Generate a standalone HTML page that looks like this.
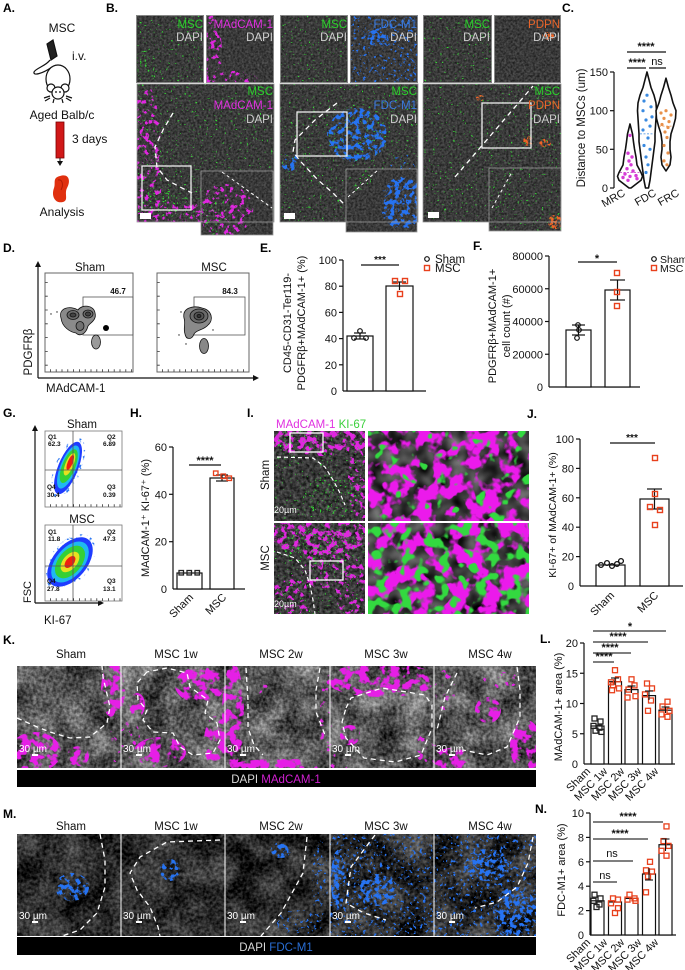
<!DOCTYPE html>
<html><head><meta charset="utf-8"><style>
body{margin:0;background:#fff}
svg{display:block}
text{font-family:"Liberation Sans",Arial,sans-serif}
</style></head><body>
<svg width="685" height="970" viewBox="0 0 685 970" xmlns="http://www.w3.org/2000/svg">
<defs>
<filter id="gD" x="0" y="0" width="1" height="1" color-interpolation-filters="sRGB"><feTurbulence type="fractalNoise" baseFrequency="0.45" numOctaves="2" seed="4"/><feColorMatrix type="matrix" values="0.35 0 0 0 0.05 0.35 0 0 0 0.05 0.35 0 0 0 0.05 0 0 0 0 1"/></filter>
<filter id="gK" x="0" y="0" width="1" height="1" color-interpolation-filters="sRGB">
<feTurbulence type="fractalNoise" baseFrequency="0.3" numOctaves="2" seed="3" result="t1"/>
<feColorMatrix in="t1" type="matrix" values="1 0 0 0 0 1 0 0 0 0 1 0 0 0 0 0 0 0 0 1" result="a"/>
<feTurbulence type="fractalNoise" baseFrequency="0.035" numOctaves="2" seed="8" result="t2"/>
<feColorMatrix in="t2" type="matrix" values="1 0 0 0 0 1 0 0 0 0 1 0 0 0 0 0 0 0 0 1" result="b"/>
<feComposite in="a" in2="b" operator="arithmetic" k1="0" k2="0.45" k3="0.55" k4="0" result="c"/>
<feColorMatrix in="c" type="matrix" values="1.3 0 0 0 -0.3 1.3 0 0 0 -0.3 1.3 0 0 0 -0.3 0 0 0 0 1"/>
</filter>
<filter id="gM" x="0" y="0" width="1" height="1" color-interpolation-filters="sRGB">
<feTurbulence type="fractalNoise" baseFrequency="0.3" numOctaves="2" seed="5" result="t1"/>
<feColorMatrix in="t1" type="matrix" values="1 0 0 0 0 1 0 0 0 0 1 0 0 0 0 0 0 0 0 1" result="a"/>
<feTurbulence type="fractalNoise" baseFrequency="0.035" numOctaves="2" seed="14" result="t2"/>
<feColorMatrix in="t2" type="matrix" values="1 0 0 0 0 1 0 0 0 0 1 0 0 0 0 0 0 0 0 1" result="b"/>
<feComposite in="a" in2="b" operator="arithmetic" k1="0" k2="0.45" k3="0.55" k4="0" result="c"/>
<feColorMatrix in="c" type="matrix" values="1.0 0 0 0 -0.33 1.0 0 0 0 -0.33 1.0 0 0 0 -0.33 0 0 0 0 1"/>
</filter>
<filter id="gI" x="0" y="0" width="1" height="1" color-interpolation-filters="sRGB"><feTurbulence type="fractalNoise" baseFrequency="0.3" numOctaves="2" seed="6"/><feColorMatrix type="matrix" values="0.5 0 0 0 -0.03 0.5 0 0 0 -0.03 0.5 0 0 0 -0.03 0 0 0 0 1"/></filter>
<filter id="gZ" x="0" y="0" width="1" height="1" color-interpolation-filters="sRGB"><feTurbulence type="fractalNoise" baseFrequency="0.06" numOctaves="2" seed="12"/><feColorMatrix type="matrix" values="0.7 0 0 0 -0.12 0.7 0 0 0 -0.12 0.7 0 0 0 -0.12 0 0 0 0 1"/></filter>

<filter id="mgD" x="0" y="0" width="1" height="1" color-interpolation-filters="sRGB"><feTurbulence type="fractalNoise" baseFrequency="0.16" numOctaves="3" seed="7"/><feColorMatrix type="matrix" values="0 0 0 0 0.88 0 0 0 0 0.15 0 0 0 0 0.88 10 0 0 0 -5"/><feComposite in2="SourceGraphic" operator="in"/></filter>
<filter id="mgM" x="0" y="0" width="1" height="1" color-interpolation-filters="sRGB"><feTurbulence type="fractalNoise" baseFrequency="0.2" numOctaves="3" seed="7"/><feColorMatrix type="matrix" values="0 0 0 0 0.88 0 0 0 0 0.15 0 0 0 0 0.88 12 0 0 0 -6.9"/><feComposite in2="SourceGraphic" operator="in"/></filter>
<filter id="mgS" x="0" y="0" width="1" height="1" color-interpolation-filters="sRGB"><feTurbulence type="fractalNoise" baseFrequency="0.16" numOctaves="3" seed="7"/><feColorMatrix type="matrix" values="0 0 0 0 0.88 0 0 0 0 0.15 0 0 0 0 0.88 14 0 0 0 -8.9"/><feComposite in2="SourceGraphic" operator="in"/></filter>
<filter id="mgK" x="0" y="0" width="1" height="1" color-interpolation-filters="sRGB"><feTurbulence type="fractalNoise" baseFrequency="0.1" numOctaves="3" seed="15"/><feColorMatrix type="matrix" values="0 0 0 0 0.9 0 0 0 0 0.12 0 0 0 0 0.9 10 0 0 0 -4.8"/><feComposite in2="SourceGraphic" operator="in"/></filter>
<filter id="mgZ" x="0" y="0" width="1" height="1" color-interpolation-filters="sRGB"><feTurbulence type="fractalNoise" baseFrequency="0.06" numOctaves="3" seed="2"/><feColorMatrix type="matrix" values="0 0 0 0 0.92 0 0 0 0 0.1 0 0 0 0 0.92 10 0 0 0 -4.7"/><feComposite in2="SourceGraphic" operator="in"/></filter>
<filter id="grS" x="0" y="0" width="1" height="1" color-interpolation-filters="sRGB"><feTurbulence type="fractalNoise" baseFrequency="0.45" numOctaves="2" seed="11"/><feColorMatrix type="matrix" values="0 0 0 0 0.2 0 0 0 0 0.85 0 0 0 0 0.2 20 0 0 0 -14.4"/><feComposite in2="SourceGraphic" operator="in"/></filter>
<filter id="grM" x="0" y="0" width="1" height="1" color-interpolation-filters="sRGB"><feTurbulence type="fractalNoise" baseFrequency="0.4" numOctaves="2" seed="13"/><feColorMatrix type="matrix" values="0 0 0 0 0.2 0 0 0 0 0.85 0 0 0 0 0.2 16 0 0 0 -10.8"/><feComposite in2="SourceGraphic" operator="in"/></filter>
<filter id="grZ" x="0" y="0" width="1" height="1" color-interpolation-filters="sRGB"><feTurbulence type="fractalNoise" baseFrequency="0.08" numOctaves="2" seed="9"/><feColorMatrix type="matrix" values="0 0 0 0 0.2 0 0 0 0 0.85 0 0 0 0 0.25 12 0 0 0 -7.4"/><feComposite in2="SourceGraphic" operator="in"/></filter>
<filter id="grZ2" x="0" y="0" width="1" height="1" color-interpolation-filters="sRGB"><feTurbulence type="fractalNoise" baseFrequency="0.08" numOctaves="2" seed="19"/><feColorMatrix type="matrix" values="0 0 0 0 0.2 0 0 0 0 0.85 0 0 0 0 0.25 10 0 0 0 -5.4"/><feComposite in2="SourceGraphic" operator="in"/></filter>
<filter id="blD" x="0" y="0" width="1" height="1" color-interpolation-filters="sRGB"><feTurbulence type="fractalNoise" baseFrequency="0.2" numOctaves="3" seed="5"/><feColorMatrix type="matrix" values="0 0 0 0 0.15 0 0 0 0 0.45 0 0 0 0 0.95 10 0 0 0 -5"/><feComposite in2="SourceGraphic" operator="in"/></filter>
<filter id="blS" x="0" y="0" width="1" height="1" color-interpolation-filters="sRGB"><feTurbulence type="fractalNoise" baseFrequency="0.3" numOctaves="3" seed="21"/><feColorMatrix type="matrix" values="0 0 0 0 0.15 0 0 0 0 0.45 0 0 0 0 0.95 14 0 0 0 -8.9"/><feComposite in2="SourceGraphic" operator="in"/></filter>
<filter id="orD" x="0" y="0" width="1" height="1" color-interpolation-filters="sRGB"><feTurbulence type="fractalNoise" baseFrequency="0.35" numOctaves="2" seed="17"/><feColorMatrix type="matrix" values="0 0 0 0 0.95 0 0 0 0 0.4 0 0 0 0 0.15 8 0 0 0 -3.6"/><feComposite in2="SourceGraphic" operator="in"/></filter>
</defs>

<!-- Panel letters -->
<g font-weight="bold" font-size="12" fill="#000">
<text x="3" y="12">A.</text><text x="106" y="12">B.</text><text x="562" y="12">C.</text>
<text x="3" y="252">D.</text><text x="260" y="252">E.</text><text x="473" y="250">F.</text>
<text x="3" y="417">G.</text><text x="130" y="417">H.</text><text x="247" y="417">I.</text><text x="527" y="418">J.</text>
<text x="3" y="644">K.</text><text x="540" y="643">L.</text><text x="3" y="818">M.</text><text x="535" y="813">N.</text>
</g>

<!-- Panel A -->
<g font-size="12" fill="#111">
<text x="62" y="32" text-anchor="middle">MSC</text>
<text x="72" y="60">i.v.</text>
<text x="62" y="119" text-anchor="middle">Aged Balb/c</text>
<text x="72" y="143">3 days</text>
<text x="62" y="216" text-anchor="middle">Analysis</text>
</g>
<g stroke="#111" stroke-width="1.2" fill="none">
<path d="M47,44 L53,40 L57,56 L51,60 Z" fill="#222"/>
<path d="M50,60 C46,66 36,68 34,72 C33,76 42,74 52,67" />
<ellipse cx="58" cy="79" rx="12" ry="14" fill="#fff"/>
<circle cx="51" cy="88" r="4" fill="#fff"/><circle cx="65" cy="88" r="4" fill="#fff"/>
<ellipse cx="58" cy="93" rx="6" ry="6" fill="#fff"/>
<path d="M50,96 L44,98 M50,98 L45,101 M66,96 L72,98 M66,98 L71,101 M54,99 L53,103 M62,99 L63,103"/>
</g>
<circle cx="56" cy="92" r="0.9" fill="#000"/><circle cx="60" cy="92" r="0.9" fill="#000"/>
<rect x="56" y="122" width="8" height="36" fill="#d01818" stroke="#7a0000" stroke-width="0.8"/>
<line x1="60" y1="158" x2="60" y2="162" stroke="#111" stroke-width="1"/>
<path d="M57,161 L63,161 L60,166 Z" fill="#111"/>
<path d="M60,176 C69,173 71,181 67,188 C64,194 69,200 63,202 C55,204 51,196 54,188 C56,183 52,178 60,176 Z" fill="#e0300f"/>
<path d="M58,180 C62,179 64,184 61,190" stroke="#b01a05" stroke-width="1" fill="none"/>

<!-- Panel B group 1 -->
<svg x="136" y="15" width="68" height="68" viewBox="136 15 68 68">
<rect x="136" y="15" width="68" height="68" filter="url(#gD)"/>
<rect x="136" y="15" width="68" height="68" fill="#fff" filter="url(#grS)"/>
<ellipse cx="145" cy="70" rx="12" ry="20" fill="#fff" filter="url(#grM)"/>
</svg>
<svg x="206" y="15" width="68" height="68" viewBox="206 15 68 68">
<rect x="206" y="15" width="68" height="68" filter="url(#gD)"/>
<ellipse cx="212" cy="55" rx="10" ry="40" fill="#fff" filter="url(#mgM)"/>
<ellipse cx="232" cy="80" rx="26" ry="9" fill="#fff" filter="url(#mgM)"/>
</svg>
<svg x="137" y="84" width="137" height="138" viewBox="137 84 137 138">
<rect x="137" y="84" width="137" height="138" filter="url(#gD)"/>
<ellipse cx="146" cy="165" rx="16" ry="80" fill="#fff" filter="url(#mgM)"/>
<ellipse cx="178" cy="216" rx="42" ry="15" fill="#fff" filter="url(#mgM)"/>
<ellipse cx="228" cy="216" rx="36" ry="10" fill="#fff" filter="url(#mgS)"/>
<rect x="137" y="84" width="137" height="138" fill="#fff" filter="url(#grS)"/>
<ellipse cx="165" cy="200" rx="22" ry="16" fill="#fff" filter="url(#grM)"/>
</svg>
<svg x="201" y="171" width="72" height="64" viewBox="201 171 72 64">
<rect x="201" y="171" width="72" height="64" filter="url(#gD)"/>
<ellipse cx="225" cy="210" rx="28" ry="26" fill="#fff" filter="url(#mgM)"/>
<ellipse cx="215" cy="216" rx="16" ry="20" fill="#fff" filter="url(#grM)"/>
</svg>
<g fill="none" stroke="#9a9a9a" stroke-width="0.8">
<rect x="136.5" y="15.5" width="67" height="67"/><rect x="206.5" y="15.5" width="67" height="67"/>
<rect x="137" y="84" width="137" height="138"/><rect x="201" y="171" width="72" height="64"/>
</g>
<path d="M173,113 L163,130 L155,147 L157,167 L167,180 L180,187 L192,193" fill="none" stroke="#fff" stroke-width="1.3" stroke-dasharray="5 4"/>
<rect x="142" y="166" width="49" height="44" fill="none" stroke="#eee" stroke-width="1.3"/>
<path d="M222,172 L272,208" stroke="#fff" stroke-width="1" stroke-dasharray="3 3"/>
<rect x="140" y="213" width="11" height="6" fill="#fff"/>
<g font-size="11.5" text-anchor="end">
<text x="203" y="28" fill="#2bd02b">MSC</text><text x="203" y="41" fill="#cfcfcf">DAPI</text>
<text x="273" y="28" fill="#e030e0">MAdCAM-1</text><text x="273" y="41" fill="#cfcfcf">DAPI</text>
<text x="273" y="95" fill="#2bd02b">MSC</text><text x="273" y="109" fill="#e030e0">MAdCAM-1</text><text x="273" y="123" fill="#cfcfcf">DAPI</text>
</g>

<!-- Panel B group 2 -->
<svg x="280" y="15" width="68" height="68" viewBox="280 15 68 68">
<rect x="280" y="15" width="68" height="68" filter="url(#gD)"/>
<rect x="280" y="15" width="68" height="68" fill="#fff" filter="url(#grS)"/>
</svg>
<svg x="350" y="15" width="68" height="68" viewBox="350 15 68 68">
<rect x="350" y="15" width="68" height="68" filter="url(#gD)"/>
<ellipse cx="378" cy="38" rx="11" ry="9" fill="#fff" filter="url(#blD)"/>
<rect x="350" y="15" width="68" height="68" fill="#fff" filter="url(#blS)"/>
</svg>
<svg x="280" y="84" width="138" height="138" viewBox="280 84 138 138">
<rect x="280" y="84" width="138" height="138" filter="url(#gD)"/>
<ellipse cx="357" cy="135" rx="30" ry="27" fill="#fff" filter="url(#blD)"/>
<ellipse cx="290" cy="162" rx="9" ry="9" fill="#fff" filter="url(#blD)"/>
<ellipse cx="402" cy="185" rx="16" ry="32" fill="#fff" filter="url(#blS)"/>
<rect x="280" y="84" width="138" height="138" fill="#fff" filter="url(#grS)"/>
</svg>
<svg x="346" y="169" width="71" height="63" viewBox="346 169 71 63">
<rect x="346" y="169" width="71" height="63" filter="url(#gD)"/>
<ellipse cx="402" cy="203" rx="22" ry="26" fill="#fff" filter="url(#blD)"/>
<ellipse cx="360" cy="180" rx="13" ry="11" fill="#fff" filter="url(#grM)"/>
</svg>
<g fill="none" stroke="#9a9a9a" stroke-width="0.8">
<rect x="280.5" y="15.5" width="67" height="67"/><rect x="350.5" y="15.5" width="67" height="67"/>
<rect x="280" y="84" width="138" height="138"/><rect x="346" y="169" width="71" height="63"/>
</g>
<path d="M337,103 L315,120 L295,140 L293,152 L302,163 L318,180 L333,193 L345,205" fill="none" stroke="#fff" stroke-width="1.3" stroke-dasharray="5 4"/>
<rect x="297" y="112" width="50" height="44" fill="none" stroke="#eee" stroke-width="1.3"/>
<path d="M348,197 L378,170" stroke="#fff" stroke-width="1" stroke-dasharray="3 3"/>
<rect x="284" y="213" width="11" height="6" fill="#fff"/>
<g font-size="11.5" text-anchor="end">
<text x="347" y="28" fill="#2bd02b">MSC</text><text x="347" y="41" fill="#cfcfcf">DAPI</text>
<text x="417" y="28" fill="#3a7be0">FDC-M1</text><text x="417" y="41" fill="#cfcfcf">DAPI</text>
<text x="417" y="95" fill="#2bd02b">MSC</text><text x="417" y="109" fill="#3a7be0">FDC-M1</text><text x="417" y="123" fill="#cfcfcf">DAPI</text>
</g>

<!-- Panel B group 3 -->
<svg x="423" y="15" width="69" height="68" viewBox="423 15 69 68">
<rect x="423" y="15" width="69" height="68" filter="url(#gD)"/>
<rect x="423" y="15" width="69" height="68" fill="#fff" filter="url(#grS)"/>
</svg>
<svg x="494" y="15" width="67" height="68" viewBox="494 15 67 68">
<rect x="494" y="15" width="67" height="68" filter="url(#gD)"/>
<ellipse cx="548" cy="36" rx="6" ry="4" fill="#fff" filter="url(#orD)"/>
</svg>
<svg x="423" y="84" width="138" height="138" viewBox="423 84 138 138">
<rect x="423" y="84" width="138" height="138" filter="url(#gD)"/>
<rect x="423" y="84" width="138" height="138" fill="#fff" filter="url(#grS)"/>
<ellipse cx="528" cy="141" rx="5" ry="5" fill="#fff" filter="url(#orD)"/>
<ellipse cx="545" cy="143" rx="6" ry="4" fill="#fff" filter="url(#orD)"/>
<ellipse cx="480" cy="98" rx="4" ry="3" fill="#fff" filter="url(#orD)"/>
</svg>
<svg x="489" y="168" width="72" height="63" viewBox="489 168 72 63">
<rect x="489" y="168" width="72" height="63" filter="url(#gD)"/>
<rect x="489" y="168" width="72" height="63" fill="#fff" filter="url(#grS)"/>
<ellipse cx="555" cy="222" rx="7" ry="7" fill="#fff" filter="url(#orD)"/>
</svg>
<g fill="none" stroke="#9a9a9a" stroke-width="0.8">
<rect x="423.5" y="15.5" width="68" height="67"/><rect x="494.5" y="15.5" width="66" height="67"/>
<rect x="423" y="84" width="138" height="138"/><rect x="489" y="168" width="72" height="63"/>
</g>
<path d="M455,177 L533,86" fill="none" stroke="#fff" stroke-width="1.3" stroke-dasharray="5 4"/>
<rect x="482" y="103" width="49" height="45" fill="none" stroke="#eee" stroke-width="1.3"/>
<path d="M492,208 L512,172" stroke="#fff" stroke-width="1" stroke-dasharray="3 3"/>
<rect x="428" y="212" width="11" height="6" fill="#fff"/>
<g font-size="11.5" text-anchor="end">
<text x="490" y="28" fill="#2bd02b">MSC</text><text x="490" y="41" fill="#cfcfcf">DAPI</text>
<text x="560" y="28" fill="#e8642a">PDPN</text><text x="560" y="41" fill="#cfcfcf">DAPI</text>
<text x="560" y="95" fill="#2bd02b">MSC</text><text x="560" y="109" fill="#e8642a">PDPN</text><text x="560" y="123" fill="#cfcfcf">DAPI</text>
</g>

<!-- Panel C violin -->
<g stroke="#111" stroke-width="1.2" fill="none">
<line x1="614" y1="72" x2="614" y2="188"/>
<line x1="610" y1="72" x2="614" y2="72"/><line x1="610" y1="110.7" x2="614" y2="110.7"/><line x1="610" y1="149.3" x2="614" y2="149.3"/><line x1="610" y1="188" x2="614" y2="188"/>
</g>
<g font-size="11" text-anchor="end" fill="#111">
<text x="608" y="76">150</text><text x="608" y="114.7">100</text><text x="608" y="153.3">50</text><text x="608" y="192">0</text>
</g>
<text transform="translate(585,128) rotate(-90)" font-size="11.5" text-anchor="middle" fill="#111">Distance to MSCs (um)</text>
<g stroke="#111" stroke-width="1.6" fill="#fff" stroke-linejoin="round">
<polygon points="630,124 632.5,134 633.5,142 634.5,149 636,157 637,165 641,172.5 642.5,176.4 641,180.3 636,184.1 631,188 629,188 624,184.1 619,180.3 617.5,176.4 619,172.5 623,165 624,157 625.5,149 626.5,142 627.5,134"/>
<polygon points="647,72 649,79.7 651,87.5 654,95.2 656,102.9 656.5,110.7 656,118.4 655.5,126.1 655,133.9 655,141.6 654,149.3 653,157.1 652,164.8 651,172.5 650,180.3 648.5,188 645.5,188 644,180.3 643,172.5 642,164.8 641,157.1 640,149.3 639,141.6 639,133.9 638.5,126.1 638,118.4 637.5,110.7 638,102.9 640,95.2 643,87.5 645,79.7"/>
<polygon points="666,78.2 668.5,87.5 671,95.2 673,102.9 676,110.7 675.5,118.4 673.5,126.1 671,133.9 670,141.6 670,149.3 671,157.1 670,164.8 666,171 662,164.8 661,157.1 662,149.3 662,141.6 661,133.9 658.5,126.1 656.5,118.4 656,110.7 659,102.9 661,95.2 663.5,87.5"/>
</g>
<g stroke-width="0.8" stroke-dasharray="2 1.5">
<line x1="620" y1="172.5" x2="640" y2="172.5" stroke="#c040c0"/>
<line x1="640" y1="133.9" x2="654" y2="133.9" stroke="#3a8ae0"/>
<line x1="659" y1="126.1" x2="673" y2="126.1" stroke="#e8904a"/>
</g>
<g fill="#d63cd6">
<circle cx="630" cy="135.4" r="1.7"/><circle cx="628" cy="153.2" r="1.7"/><circle cx="632" cy="157" r="1.7"/><circle cx="629" cy="161" r="1.7"/><circle cx="631" cy="164.8" r="1.7"/><circle cx="627" cy="168.7" r="1.7"/><circle cx="633" cy="171" r="1.7"/><circle cx="625" cy="174" r="1.7"/><circle cx="636" cy="175.6" r="1.7"/><circle cx="630" cy="176.4" r="1.7"/><circle cx="623" cy="177.5" r="1.7"/><circle cx="637" cy="178.7" r="1.7"/><circle cx="628" cy="180.3" r="1.7"/>
</g>
<g fill="#3a8ae0">
<circle cx="647" cy="95.2" r="1.6"/><circle cx="644" cy="101" r="1.6"/><circle cx="651" cy="106.8" r="1.6"/><circle cx="643" cy="110.7" r="1.6"/><circle cx="652" cy="116.9" r="1.6"/><circle cx="646" cy="120" r="1.6"/><circle cx="650" cy="126.1" r="1.6"/><circle cx="643" cy="130" r="1.6"/><circle cx="648" cy="138" r="1.6"/><circle cx="644" cy="145.5" r="1.6"/><circle cx="650" cy="149.3" r="1.6"/><circle cx="646" cy="157" r="1.6"/><circle cx="648" cy="164.8" r="1.6"/><circle cx="646" cy="172.5" r="1.6"/>
</g>
<g fill="#e8904a">
<circle cx="666" cy="110.7" r="1.6"/><circle cx="661" cy="113" r="1.6"/><circle cx="671" cy="115" r="1.6"/><circle cx="664" cy="118.4" r="1.6"/><circle cx="669" cy="121.6" r="1.6"/><circle cx="662" cy="124.5" r="1.6"/><circle cx="668" cy="127.5" r="1.6"/><circle cx="665" cy="132" r="1.6"/><circle cx="667" cy="137.5" r="1.6"/><circle cx="664" cy="145.5" r="1.6"/><circle cx="668" cy="153" r="1.6"/><circle cx="664" cy="160.9" r="1.6"/><circle cx="667" cy="164.8" r="1.6"/>
</g>
<g stroke="#111" stroke-width="1.2">
<line x1="627" y1="52" x2="666" y2="52"/><line x1="627" y1="68" x2="646" y2="68"/><line x1="649" y1="68" x2="666" y2="68"/>
</g>
<g font-size="11" fill="#111" text-anchor="middle">
<text x="646" y="50" font-weight="bold">****</text>
<text x="637" y="66" font-weight="bold">****</text>
<text x="657" y="65">ns</text>
</g>
<g font-size="11" fill="#111" text-anchor="end">
<text transform="translate(626,195) rotate(-30)">MRC</text>
<text transform="translate(657,195) rotate(-30)">FDC</text>
<text transform="translate(680,195) rotate(-30)">FRC</text>
</g>

<!-- Panel D -->
<g stroke="#111" stroke-width="1.2" fill="none">
<line x1="38" y1="266" x2="38" y2="378"/><line x1="38" y1="378" x2="254" y2="378"/>
</g>
<path d="M35,267 L41,267 L38,261 Z" fill="#111"/><path d="M253,375 L253,381 L259,378 Z" fill="#111"/>
<rect x="45" y="273" width="88" height="99" fill="#fff" stroke="#666" stroke-width="1"/>
<rect x="157" y="273" width="92" height="99" fill="#fff" stroke="#666" stroke-width="1"/>
<g stroke="#333" stroke-width="2.5" stroke-dasharray="0.8 5">
<line x1="50" y1="370.5" x2="132" y2="370.5"/><line x1="162" y1="370.5" x2="248" y2="370.5"/>
</g>
<g stroke="#333" stroke-width="2.5" stroke-dasharray="0.8 13">
<line x1="46.5" y1="282" x2="46.5" y2="370"/><line x1="158.5" y1="282" x2="158.5" y2="370"/>
</g>
<rect x="83" y="297" width="50" height="38" fill="none" stroke="#555" stroke-width="0.8"/>
<rect x="194" y="297" width="51" height="38" fill="none" stroke="#555" stroke-width="0.8"/>
<g font-size="8" font-weight="bold" fill="#111" text-anchor="middle">
<text x="118" y="294">46.7</text><text x="230" y="294">84.3</text>
</g>
<g stroke="#111" stroke-width="0.8">
<path d="M61,318 C58,308 70,305 78,310 C82,304 94,305 95,313 C97,320 90,323 88,326 C86,334 80,337 76,333 C70,332 62,327 61,318Z" fill="#8a8a8a"/>
<ellipse cx="73" cy="315" rx="6" ry="4.5" fill="#6a6a6a"/><ellipse cx="88" cy="314" rx="5" ry="4" fill="#6a6a6a"/><ellipse cx="80" cy="326" rx="4" ry="4.5" fill="#707070"/>
<ellipse cx="73" cy="315" rx="3" ry="2" fill="#444"/><ellipse cx="88" cy="314" rx="2.5" ry="2" fill="#444"/>
<ellipse cx="96" cy="342" rx="4.5" ry="7" fill="#9a9a9a"/>
<path d="M184,318 C182,308 193,305 202,308 C212,310 214,320 208,325 C204,330 196,330 194,334 C192,340 186,340 185,334 C183,328 186,324 184,318Z" fill="#8a8a8a"/>
<ellipse cx="199" cy="316" rx="9" ry="7" fill="#6a6a6a"/><ellipse cx="199" cy="316" rx="5" ry="4" fill="#555"/><ellipse cx="199" cy="316" rx="2" ry="1.6" fill="#333"/>
<ellipse cx="204" cy="346" rx="4.5" ry="7.5" fill="#888"/>
</g>
<circle cx="106" cy="328" r="3" fill="#000"/>
<g fill="#222"><circle cx="51" cy="314" r="0.7"/><circle cx="57" cy="312" r="0.7"/><circle cx="181" cy="312" r="0.7"/><circle cx="179" cy="335" r="0.7"/><circle cx="213" cy="330" r="0.7"/><circle cx="186" cy="344" r="0.7"/></g>
<g font-size="11.5" fill="#111" text-anchor="middle">
<text x="90" y="271">Sham</text><text x="214" y="271">MSC</text>
</g>
<text transform="translate(32,352) rotate(-90)" font-size="11.5" fill="#111" text-anchor="middle">PDGFRβ</text>
<text x="46" y="392" font-size="11.5" fill="#111">MAdCAM-1</text>

<!-- Panel E -->
<g stroke="#111" stroke-width="1.2" fill="none">
<line x1="343" y1="260" x2="343" y2="391"/><line x1="343" y1="391" x2="426" y2="391"/>
<line x1="339" y1="260" x2="343" y2="260"/><line x1="339" y1="286.2" x2="343" y2="286.2"/><line x1="339" y1="312.4" x2="343" y2="312.4"/><line x1="339" y1="338.6" x2="343" y2="338.6"/><line x1="339" y1="364.8" x2="343" y2="364.8"/>
<rect x="347" y="336" width="26" height="55" fill="#fff"/>
<rect x="386" y="286" width="27" height="105" fill="#fff"/>
<line x1="360" y1="333" x2="360" y2="339"/><line x1="354" y1="333" x2="366" y2="333"/><line x1="354" y1="339" x2="366" y2="339"/>
<line x1="399.5" y1="282" x2="399.5" y2="290"/><line x1="393" y1="282" x2="406" y2="282"/>
<line x1="361" y1="265" x2="399" y2="265"/>
</g>
<g fill="none" stroke="#111" stroke-width="1.2"><circle cx="354" cy="338" r="2.3"/><circle cx="360" cy="331" r="2.3"/><circle cx="366" cy="338" r="2.3"/></g>
<g fill="none" stroke="#e8401c" stroke-width="1.4"><rect x="392.5" y="278.5" width="5" height="5"/><rect x="402.5" y="278.5" width="5" height="5"/><rect x="397.5" y="291.5" width="5" height="5"/></g>
<text x="380" y="263" font-size="10" font-weight="bold" text-anchor="middle" fill="#111">***</text>
<g font-size="11" text-anchor="end" fill="#111">
<text x="337" y="264">100</text><text x="337" y="290.2">80</text><text x="337" y="316.4">60</text><text x="337" y="342.6">40</text><text x="337" y="368.8">20</text><text x="337" y="395">0</text>
</g>
<text transform="translate(291,323) rotate(-90)" font-size="11" text-anchor="middle" fill="#111">CD45-CD31-Ter119-</text>
<text transform="translate(305,323) rotate(-90)" font-size="11" text-anchor="middle" fill="#111">PDGFRβ+MAdCAM-1+ (%)</text>
<circle cx="427" cy="259" r="2.3" fill="none" stroke="#111" stroke-width="1.2"/>
<rect x="424.5" y="265.5" width="5" height="5" fill="none" stroke="#e8401c" stroke-width="1.4"/>
<g font-size="11.5" fill="#111"><text x="435" y="263">Sham</text><text x="435" y="272">MSC</text></g>

<!-- Panel F -->
<g stroke="#111" stroke-width="1.2" fill="none">
<line x1="549" y1="256" x2="549" y2="387"/><line x1="549" y1="387" x2="640" y2="387"/>
<line x1="545" y1="256" x2="549" y2="256"/><line x1="545" y1="288.75" x2="549" y2="288.75"/><line x1="545" y1="321.5" x2="549" y2="321.5"/><line x1="545" y1="354.25" x2="549" y2="354.25"/>
<rect x="566" y="330" width="25" height="57" fill="#fff"/>
<rect x="605" y="290" width="25" height="97" fill="#fff"/>
<line x1="578.5" y1="325" x2="578.5" y2="335"/><line x1="572" y1="325" x2="585" y2="325"/><line x1="572" y1="335" x2="585" y2="335"/>
<line x1="617.5" y1="280" x2="617.5" y2="300"/><line x1="610" y1="280" x2="625" y2="280"/><line x1="610" y1="300" x2="625" y2="300"/>
<line x1="578" y1="262" x2="617" y2="262"/>
</g>
<g fill="none" stroke="#111" stroke-width="1.2"><circle cx="578" cy="325" r="2.3"/><circle cx="579" cy="330" r="2.3"/><circle cx="577" cy="338" r="2.3"/></g>
<g fill="none" stroke="#e8401c" stroke-width="1.4"><rect x="614.5" y="270.5" width="5" height="5"/><rect x="614.5" y="289.5" width="5" height="5"/><rect x="614.5" y="303.5" width="5" height="5"/></g>
<text x="597" y="262" font-size="11" font-weight="bold" text-anchor="middle" fill="#111">*</text>
<g font-size="11" text-anchor="end" fill="#111">
<text x="543" y="260">80000</text><text x="543" y="292.75">60000</text><text x="543" y="325.5">40000</text><text x="543" y="358.25">20000</text><text x="543" y="391">0</text>
</g>
<text transform="translate(496,326) rotate(-90)" font-size="11" text-anchor="middle" fill="#111">PDGFRβ+MAdCAM-1+</text>
<text transform="translate(510,326) rotate(-90)" font-size="11" text-anchor="middle" fill="#111">cell count (#)</text>
<circle cx="654" cy="259" r="2.3" fill="none" stroke="#111" stroke-width="1.2"/>
<rect x="651.5" y="265.5" width="5" height="5" fill="none" stroke="#e8401c" stroke-width="1.4"/>
<g font-size="10.5" fill="#111"><text x="660" y="263">Sham</text><text x="660" y="272">MSC</text></g>

<!-- Panel G -->
<g stroke="#111" stroke-width="1.2" fill="none">
<line x1="35" y1="430" x2="35" y2="603"/><line x1="35" y1="603" x2="99" y2="603"/>
</g>
<path d="M32,431 L38,431 L35,425 Z" fill="#111"/><path d="M98,600 L98,606 L104,603 Z" fill="#111"/>
<rect x="45" y="431" width="77" height="76" fill="#fff" stroke="#777" stroke-width="0.8"/>
<rect x="45" y="525" width="77" height="76" fill="#fff" stroke="#777" stroke-width="0.8"/>
<g transform="translate(68,468) rotate(22)">
<ellipse cx="0" cy="0" rx="13" ry="32" fill="#fff" filter="url(#blS)"/>
<ellipse cx="0" cy="0" rx="10" ry="28" fill="#1f3cff"/>
<ellipse cx="0" cy="-1" rx="8" ry="23" fill="#1fb8f0"/>
<ellipse cx="0" cy="-2" rx="6.5" ry="18" fill="#35d035"/>
<ellipse cx="0" cy="-4" rx="4" ry="12" fill="#e8e020"/>
<ellipse cx="0" cy="-6" rx="2.5" ry="8" fill="#f02010"/>
</g>
<g transform="translate(70,562) rotate(40)">
<ellipse cx="0" cy="0" rx="20" ry="32" fill="#fff" filter="url(#blS)"/>
<ellipse cx="0" cy="0" rx="17" ry="29" fill="#1f3cff"/>
<ellipse cx="0" cy="0" rx="14" ry="24" fill="#1fb8f0"/>
<ellipse cx="0" cy="0" rx="11.5" ry="19" fill="#35d035"/>
<ellipse cx="0" cy="0" rx="7" ry="12" fill="#e8e020"/>
<ellipse cx="0" cy="0" rx="4" ry="7" fill="#f02010"/>
</g>
<g stroke="#555" stroke-width="0.8">
<line x1="73" y1="431" x2="73" y2="507"/><line x1="45" y1="470" x2="122" y2="470"/>
<line x1="73" y1="525" x2="73" y2="601"/><line x1="45" y1="566" x2="122" y2="566"/>
</g>
<g stroke="#333" stroke-width="2.5" stroke-dasharray="0.8 5">
<line x1="50" y1="505.5" x2="121" y2="505.5"/><line x1="50" y1="599.5" x2="121" y2="599.5"/>
</g>
<g font-size="6.5" font-weight="bold" fill="#111">
<text x="48" y="439">Q1</text><text x="48" y="446">62.3</text><text x="107" y="439">Q2</text><text x="103" y="446">6.89</text>
<text x="47" y="489">Q4</text><text x="47" y="497">30.4</text><text x="107" y="489">Q3</text><text x="103" y="497">0.39</text>
<text x="48" y="534">Q1</text><text x="48" y="541">11.8</text><text x="107" y="534">Q2</text><text x="103" y="541">47.3</text>
<text x="47" y="583">Q4</text><text x="47" y="591">27.8</text><text x="107" y="583">Q3</text><text x="103" y="591">13.1</text>
</g>
<g font-size="11.5" fill="#111" text-anchor="middle"><text x="82" y="428">Sham</text><text x="82" y="523">MSC</text></g>
<text transform="translate(31,592) rotate(-90)" font-size="11" text-anchor="middle" fill="#111">FSC</text>
<text x="44" y="624" font-size="11.5" fill="#111">KI-67</text>

<!-- Panel H -->
<g stroke="#111" stroke-width="1.2" fill="none">
<line x1="173" y1="447" x2="173" y2="589"/><line x1="173" y1="589" x2="245" y2="589"/>
<line x1="169" y1="447" x2="173" y2="447"/><line x1="169" y1="494.3" x2="173" y2="494.3"/><line x1="169" y1="541.7" x2="173" y2="541.7"/>
<rect x="177" y="573" width="25" height="16" fill="#fff"/>
<rect x="210" y="478" width="24" height="111" fill="#fff"/>
<line x1="222" y1="475" x2="222" y2="481"/><line x1="216" y1="475" x2="228" y2="475"/><line x1="216" y1="481" x2="228" y2="481"/>
<line x1="189" y1="465" x2="221" y2="465"/>
</g>
<g fill="none" stroke="#222" stroke-width="1.3"><rect x="179" y="570.5" width="4.5" height="4.5"/><rect x="187" y="570.5" width="4.5" height="4.5"/><rect x="195" y="570.5" width="4.5" height="4.5"/></g>
<g fill="none" stroke="#e8401c" stroke-width="1.3"><rect x="213.5" y="471" width="4.5" height="4.5"/><rect x="221" y="474" width="4.5" height="4.5"/><rect x="227" y="476" width="4.5" height="4.5"/></g>
<text x="205" y="464" font-size="11" font-weight="bold" text-anchor="middle" fill="#111">****</text>
<g font-size="11" text-anchor="end" fill="#111">
<text x="167" y="451">60</text><text x="167" y="498.3">40</text><text x="167" y="545.7">20</text><text x="167" y="593">0</text>
</g>
<text transform="translate(149,518) rotate(-90)" font-size="11" text-anchor="middle" fill="#111">MAdCAM-1⁺ KI-67⁺ (%)</text>
<g font-size="11" fill="#111" text-anchor="end">
<text transform="translate(194,598) rotate(-45)">Sham</text>
<text transform="translate(227,598) rotate(-45)">MSC</text>
</g>

<!-- Panel I -->
<text x="276" y="428" font-size="11.5"><tspan fill="#e030e0">MAdCAM-1</tspan><tspan fill="#3cd03c"> KI-67</tspan></text>
<svg x="274" y="431" width="91" height="90" viewBox="274 431 91 90">
<rect x="274" y="431" width="91" height="90" filter="url(#gI)"/>
<ellipse cx="320" cy="440" rx="50" ry="16" fill="#fff" filter="url(#mgD)"/>
<ellipse cx="360" cy="475" rx="12" ry="50" fill="#fff" filter="url(#mgM)"/>
<ellipse cx="282" cy="440" rx="8" ry="8" fill="#fff" filter="url(#grM)"/>
<rect x="274" y="431" width="91" height="90" fill="#fff" filter="url(#grS)"/>
<ellipse cx="330" cy="495" rx="30" ry="20" fill="#fff" filter="url(#grM)"/>
</svg>
<svg x="274" y="523" width="91" height="91" viewBox="274 523 91 91">
<rect x="274" y="523" width="91" height="91" filter="url(#gI)"/>
<ellipse cx="318" cy="535" rx="50" ry="20" fill="#fff" filter="url(#mgD)"/>
<ellipse cx="290" cy="600" rx="20" ry="25" fill="#fff" filter="url(#mgM)"/>
<ellipse cx="352" cy="590" rx="16" ry="32" fill="#fff" filter="url(#mgM)"/>
<ellipse cx="330" cy="570" rx="30" ry="20" fill="#fff" filter="url(#mgM)"/>
<rect x="274" y="523" width="91" height="91" fill="#fff" filter="url(#grS)"/>
<ellipse cx="320" cy="545" rx="40" ry="20" fill="#fff" filter="url(#grM)"/>
</svg>
<svg x="368" y="431" width="161" height="90" viewBox="368 431 161 90">
<rect x="368" y="431" width="161" height="90" filter="url(#gZ)"/>
<rect x="368" y="431" width="161" height="90" fill="#fff" filter="url(#mgZ)"/>
<rect x="368" y="431" width="161" height="90" fill="#fff" filter="url(#grZ)"/>
</svg>
<svg x="368" y="523" width="161" height="91" viewBox="368 523 161 91">
<rect x="368" y="523" width="161" height="91" filter="url(#gZ)"/>
<rect x="368" y="523" width="161" height="91" fill="#fff" filter="url(#mgZ)"/>
<rect x="368" y="523" width="161" height="91" fill="#fff" filter="url(#grZ2)"/>
</svg>
<path d="M277,457 L313,458 L325,467 L333,480 L340,493 L345,505" fill="none" stroke="#fff" stroke-width="1.2" stroke-dasharray="4 3"/>
<rect x="290" y="433" width="33" height="19" fill="none" stroke="#fff" stroke-width="1.3"/>
<path d="M277,552 L295,558 L305,570 L310,585 L313,600 L315,614" fill="none" stroke="#fff" stroke-width="1.2" stroke-dasharray="4 3"/>
<rect x="310" y="561" width="33" height="19" fill="none" stroke="#fff" stroke-width="1.3"/>
<g font-size="9" fill="#fff"><text x="274" y="513">20µm</text><text x="274" y="607">20µm</text></g>
<g font-size="11.5" fill="#111" text-anchor="middle">
<text transform="translate(269,475) rotate(-90)">Sham</text>
<text transform="translate(269,558) rotate(-90)">MSC</text>
</g>

<!-- Panel J -->
<g stroke="#111" stroke-width="1.2" fill="none">
<line x1="580" y1="439" x2="580" y2="586"/><line x1="580" y1="586" x2="683" y2="586"/>
<line x1="576" y1="439" x2="580" y2="439"/><line x1="576" y1="468.4" x2="580" y2="468.4"/><line x1="576" y1="497.8" x2="580" y2="497.8"/><line x1="576" y1="527.2" x2="580" y2="527.2"/><line x1="576" y1="556.6" x2="580" y2="556.6"/>
<rect x="596" y="565" width="29" height="21" fill="#fff"/>
<rect x="640" y="499" width="29" height="87" fill="#fff"/>
<line x1="654.5" y1="489" x2="654.5" y2="509"/><line x1="647" y1="489" x2="662" y2="489"/><line x1="647" y1="509" x2="662" y2="509"/>
<line x1="610" y1="443" x2="655" y2="443"/>
</g>
<g fill="none" stroke="#111" stroke-width="1.3"><circle cx="601" cy="565" r="2.4"/><circle cx="607" cy="563" r="2.4"/><circle cx="612" cy="566" r="2.4"/><circle cx="617" cy="564" r="2.4"/><circle cx="621" cy="561" r="2.4"/></g>
<g fill="none" stroke="#e8401c" stroke-width="1.4"><rect x="652.5" y="455.5" width="5" height="5"/><rect x="652.5" y="491.5" width="5" height="5"/><rect x="647.5" y="504.5" width="5" height="5"/><rect x="657.5" y="507.5" width="5" height="5"/><rect x="652.5" y="522.5" width="5" height="5"/></g>
<text x="632" y="441" font-size="10" font-weight="bold" text-anchor="middle" fill="#111">***</text>
<g font-size="11" text-anchor="end" fill="#111">
<text x="574" y="443">100</text><text x="574" y="472.4">80</text><text x="574" y="501.8">60</text><text x="574" y="531.2">40</text><text x="574" y="560.6">20</text><text x="574" y="590">0</text>
</g>
<text transform="translate(556,515) rotate(-90)" font-size="10.5" text-anchor="middle" fill="#111">KI-67+ of MAdCAM-1+ (%)</text>
<g font-size="11" fill="#111" text-anchor="end">
<text transform="translate(615,596) rotate(-45)">Sham</text>
<text transform="translate(659,596) rotate(-45)">MSC</text>
</g>

<!-- Panel K -->
<g font-size="11.5" fill="#111" text-anchor="middle">
<text x="71" y="658">Sham</text><text x="176" y="658">MSC 1w</text><text x="281" y="658">MSC 2w</text><text x="386" y="658">MSC 3w</text><text x="490" y="658">MSC 4w</text>
</g>
<svg x="17" y="666" width="519" height="102" viewBox="17 666 519 102">
<rect x="17" y="666" width="519" height="102" filter="url(#gK)"/>
<ellipse cx="113" cy="690" rx="12" ry="28" fill="#fff" filter="url(#mgK)"/>
<ellipse cx="35" cy="752" rx="26" ry="20" fill="#fff" filter="url(#mgK)"/>
<ellipse cx="78" cy="756" rx="11" ry="10" fill="#fff" filter="url(#mgK)"/>
<ellipse cx="118" cy="742" rx="8" ry="25" fill="#fff" filter="url(#mgS)"/>
<ellipse cx="200" cy="685" rx="25" ry="18" fill="#fff" filter="url(#mgK)"/>
<ellipse cx="137" cy="705" rx="8" ry="12" fill="#fff" filter="url(#mgK)"/>
<ellipse cx="160" cy="752" rx="26" ry="15" fill="#fff" filter="url(#mgK)"/>
<ellipse cx="216" cy="742" rx="12" ry="26" fill="#fff" filter="url(#mgK)"/>
<ellipse cx="130" cy="742" rx="10" ry="25" fill="#fff" filter="url(#mgS)"/>
<ellipse cx="233" cy="715" rx="11" ry="52" fill="#fff" filter="url(#mgK)"/>
<ellipse cx="282" cy="766" rx="52" ry="7" fill="#fff" filter="url(#mgK)"/>
<ellipse cx="326" cy="720" rx="6" ry="46" fill="#fff" filter="url(#mgS)"/>
<ellipse cx="262" cy="690" rx="8" ry="6" fill="#fff" filter="url(#mgS)"/>
<ellipse cx="382" cy="680" rx="56" ry="17" fill="#fff" filter="url(#mgK)"/>
<ellipse cx="350" cy="735" rx="10" ry="10" fill="#fff" filter="url(#mgK)"/>
<ellipse cx="340" cy="760" rx="12" ry="10" fill="#fff" filter="url(#mgS)"/>
<ellipse cx="426" cy="750" rx="10" ry="20" fill="#fff" filter="url(#mgS)"/>
<ellipse cx="488" cy="710" rx="13" ry="13" fill="#fff" filter="url(#mgK)"/>
<ellipse cx="526" cy="746" rx="16" ry="26" fill="#fff" filter="url(#mgK)"/>
<ellipse cx="451" cy="759" rx="19" ry="11" fill="#fff" filter="url(#mgK)"/>
<ellipse cx="445" cy="690" rx="10" ry="20" fill="#fff" filter="url(#mgS)"/>
<ellipse cx="500" cy="680" rx="20" ry="8" fill="#fff" filter="url(#mgS)"/>
</svg>
<g stroke="#fff" stroke-width="1"><line x1="121" y1="666" x2="121" y2="768"/><line x1="225" y1="666" x2="225" y2="768"/><line x1="330" y1="666" x2="330" y2="768"/><line x1="434" y1="666" x2="434" y2="768"/></g>
<g fill="none" stroke="#fff" stroke-width="1.3" stroke-dasharray="5 4">
<path d="M17,718 L35,726 L50,732 L70,738 L90,737 L107,723 L110,707 L103,677 L102,666"/>
<path d="M147,672 L137,683 L138,700 L147,710 L143,720 L153,732 L173,733 L180,747 L193,755 L213,753 L220,740 L217,723 L205,713 L208,700 L190,687 L187,673 L167,668 Z"/>
<path d="M246,668 L248,700 L248,728 L254,745 L263,755"/>
<path d="M320,668 L316,690 L316,712 L325,735"/>
<path d="M346,708 L351,698 L382,688 L425,695 L432,705 L432,728 L421,755 L395,762 L364,758 L346,738 L342,722 Z"/>
<path d="M457,673 L445,697 L437,730"/>
<path d="M517,667 L520,690 L520,717 L507,747 L487,755 L463,750"/>
</g>
<g font-size="10" fill="#fff">
<text x="19" y="752">30 µm</text><text x="123" y="752">30 µm</text><text x="227" y="752">30 µm</text><text x="332" y="752">30 µm</text><text x="436" y="752">30 µm</text>
</g>
<g stroke="#fff" stroke-width="2">
<line x1="32" y1="755" x2="38" y2="755"/><line x1="136" y1="755" x2="142" y2="755"/><line x1="240" y1="755" x2="246" y2="755"/><line x1="345" y1="755" x2="351" y2="755"/><line x1="449" y1="755" x2="455" y2="755"/>
</g>
<rect x="17" y="770" width="519" height="17" fill="#000"/>
<text x="276" y="783" font-size="11.5" text-anchor="middle"><tspan fill="#d8d8d8">DAPI </tspan><tspan fill="#d020d0">MAdCAM-1</tspan></text>

<!-- Panel L -->
<g stroke="#111" stroke-width="1.2" fill="none">
<line x1="584" y1="643" x2="584" y2="764"/><line x1="584" y1="764" x2="675" y2="764"/>
<line x1="580" y1="643" x2="584" y2="643"/><line x1="580" y1="673.25" x2="584" y2="673.25"/><line x1="580" y1="703.5" x2="584" y2="703.5"/><line x1="580" y1="733.75" x2="584" y2="733.75"/>
<rect x="591" y="726" width="13" height="38" fill="#fff"/>
<rect x="608.5" y="681.7" width="13" height="82.3" fill="#fff"/>
<rect x="625" y="689.6" width="13" height="74.4" fill="#fff"/>
<rect x="642.5" y="695.6" width="13" height="68.4" fill="#fff"/>
<rect x="659" y="710.2" width="13" height="53.8" fill="#fff"/>
</g>
<g stroke="#333" stroke-width="1.3">
<line x1="593" y1="662" x2="614" y2="662"/><line x1="593" y1="653" x2="631" y2="653"/><line x1="593" y1="642" x2="648" y2="642"/><line x1="593" y1="631" x2="666" y2="631"/>
</g>
<g font-size="11" font-weight="bold" fill="#111" text-anchor="middle">
<text x="604" y="660">****</text><text x="610" y="651">****</text><text x="618" y="640">****</text><text x="630" y="630">*</text>
</g>
<g fill="none" stroke="#222" stroke-width="1.3">
<rect x="592" y="716" width="5" height="5"/><rect x="598" y="719" width="5" height="5"/><rect x="591" y="723.4" width="5" height="5"/><rect x="597" y="725.2" width="5" height="5"/><rect x="593" y="728.2" width="5" height="5"/><rect x="599" y="729.4" width="5" height="5"/>
</g>
<g fill="none" stroke="#e8401c" stroke-width="1.3">
<rect x="612.5" y="667.7" width="5" height="5"/><rect x="615.5" y="676.8" width="5" height="5"/><rect x="608.5" y="679.8" width="5" height="5"/><rect x="610.5" y="682.9" width="5" height="5"/><rect x="616.5" y="685.9" width="5" height="5"/><rect x="609.5" y="687.7" width="5" height="5"/>
<rect x="629" y="676.8" width="5" height="5"/><rect x="632" y="682.9" width="5" height="5"/><rect x="626" y="687.1" width="5" height="5"/><rect x="625" y="695" width="5" height="5"/><rect x="633" y="693.7" width="5" height="5"/>
<rect x="644.5" y="681" width="5" height="5"/><rect x="649.5" y="685.9" width="5" height="5"/><rect x="642.5" y="691.9" width="5" height="5"/><rect x="648.5" y="698" width="5" height="5"/><rect x="645.5" y="708.3" width="5" height="5"/>
<rect x="665" y="699.2" width="5" height="5"/><rect x="660" y="704" width="5" height="5"/><rect x="667" y="708.3" width="5" height="5"/><rect x="659" y="711.9" width="5" height="5"/><rect x="665" y="714.3" width="5" height="5"/>
</g>
<g stroke="#111" stroke-width="1.1">
<line x1="615" y1="678" x2="615" y2="685"/><line x1="611" y1="678" x2="619" y2="678"/>
<line x1="631.5" y1="686" x2="631.5" y2="693"/><line x1="627.5" y1="686" x2="635.5" y2="686"/>
<line x1="649" y1="691" x2="649" y2="700"/><line x1="645" y1="691" x2="653" y2="691"/>
<line x1="665.5" y1="707" x2="665.5" y2="713"/><line x1="661.5" y1="707" x2="669.5" y2="707"/>
</g>
<g font-size="11" text-anchor="end" fill="#111">
<text x="578" y="647">20</text><text x="578" y="677.25">15</text><text x="578" y="707.5">10</text><text x="578" y="737.75">5</text><text x="578" y="768">0</text>
</g>
<text transform="translate(562,707) rotate(-90)" font-size="11" text-anchor="middle" fill="#111">MAdCAM-1+ area (%)</text>
<g font-size="11" fill="#111" text-anchor="end">
<text transform="translate(591,772) rotate(-45)">Sham</text>
<text transform="translate(608,772) rotate(-45)">MSC 1w</text>
<text transform="translate(625,772) rotate(-45)">MSC 2w</text>
<text transform="translate(642,772) rotate(-45)">MSC 3w</text>
<text transform="translate(659,772) rotate(-45)">MSC 4w</text>
</g>

<!-- Panel M -->
<g font-size="11.5" fill="#111" text-anchor="middle">
<text x="71" y="830">Sham</text><text x="176" y="830">MSC 1w</text><text x="281" y="830">MSC 2w</text><text x="386" y="830">MSC 3w</text><text x="490" y="830">MSC 4w</text>
</g>
<svg x="17" y="834" width="519" height="102" viewBox="17 834 519 102">
<rect x="17" y="834" width="519" height="102" filter="url(#gM)"/>
<ellipse cx="72" cy="887" rx="17" ry="14" fill="#fff" filter="url(#blD)"/>
<ellipse cx="170" cy="870" rx="10" ry="11" fill="#fff" filter="url(#blD)"/>
<ellipse cx="281" cy="850" rx="10" ry="8" fill="#fff" filter="url(#blD)"/>
<ellipse cx="320" cy="880" rx="8" ry="40" fill="#fff" filter="url(#blS)"/>
<ellipse cx="300" cy="922" rx="25" ry="12" fill="#fff" filter="url(#blS)"/>
<ellipse cx="376" cy="890" rx="19" ry="16" fill="#fff" filter="url(#blD)"/>
<ellipse cx="338" cy="880" rx="7" ry="30" fill="#fff" filter="url(#blD)"/>
<rect x="330" y="834" width="104" height="102" fill="#fff" filter="url(#blS)"/>
<ellipse cx="487" cy="865" rx="23" ry="16" fill="#fff" filter="url(#blD)"/>
<ellipse cx="515" cy="912" rx="22" ry="25" fill="#fff" filter="url(#blD)"/>
<rect x="434" y="834" width="102" height="102" fill="#fff" filter="url(#blS)"/>
</svg>
<g stroke="#fff" stroke-width="1"><line x1="121" y1="834" x2="121" y2="936"/><line x1="225" y1="834" x2="225" y2="936"/><line x1="330" y1="834" x2="330" y2="936"/><line x1="434" y1="834" x2="434" y2="936"/></g>
<g fill="none" stroke="#fff" stroke-width="1.3" stroke-dasharray="5 4">
<path d="M100,834 L105,860 L105,887 L97,913 L80,930 L62,936"/>
<path d="M220,840 L167,842 L140,857 L130,873 L137,890 L150,907 L158,927 L160,936"/>
<path d="M307,837 L303,873 L281,913 L261,936"/>
<path d="M375,835 L351,867 L346,903 L364,913 L386,920"/>
<path d="M533,837 L528,863 L517,887 L497,902 L475,908"/>
</g>
<g font-size="10" fill="#fff">
<text x="19" y="919">30 µm</text><text x="123" y="919">30 µm</text><text x="227" y="919">30 µm</text><text x="332" y="919">30 µm</text><text x="436" y="919">30 µm</text>
</g>
<g stroke="#fff" stroke-width="2">
<line x1="32" y1="922" x2="38" y2="922"/><line x1="136" y1="922" x2="142" y2="922"/><line x1="240" y1="922" x2="246" y2="922"/><line x1="345" y1="922" x2="351" y2="922"/><line x1="449" y1="922" x2="455" y2="922"/>
</g>
<rect x="17" y="937" width="519" height="18" fill="#000"/>
<text x="276" y="951" font-size="11.5" text-anchor="middle"><tspan fill="#d8d8d8">DAPI </tspan><tspan fill="#2a6fd6">FDC-M1</tspan></text>

<!-- Panel N -->
<g stroke="#111" stroke-width="1.2" fill="none">
<line x1="590" y1="813" x2="590" y2="935"/><line x1="590" y1="935" x2="676" y2="935"/>
<line x1="586" y1="813" x2="590" y2="813"/><line x1="586" y1="837.4" x2="590" y2="837.4"/><line x1="586" y1="861.8" x2="590" y2="861.8"/><line x1="586" y1="886.2" x2="590" y2="886.2"/><line x1="586" y1="910.6" x2="590" y2="910.6"/>
<rect x="591" y="900.8" width="13" height="34.2" fill="#fff"/>
<rect x="608.5" y="902" width="13" height="33" fill="#fff"/>
<rect x="625" y="898.4" width="13" height="36.6" fill="#fff"/>
<rect x="642.5" y="874" width="13" height="61" fill="#fff"/>
<rect x="659" y="844.7" width="13" height="90.3" fill="#fff"/>
</g>
<g stroke="#333" stroke-width="1.3">
<line x1="593" y1="882" x2="617" y2="882"/><line x1="593" y1="861" x2="633" y2="861"/><line x1="593" y1="839" x2="648" y2="839"/><line x1="593" y1="822" x2="663" y2="822"/>
</g>
<g font-size="11" fill="#111" text-anchor="middle">
<text x="605" y="879">ns</text><text x="612" y="857">ns</text>
<text x="620" y="837" font-weight="bold">****</text><text x="628" y="820" font-weight="bold">****</text>
</g>
<g fill="none" stroke="#222" stroke-width="1.3">
<rect x="592" y="892.2" width="5" height="5"/><rect x="598" y="895.9" width="5" height="5"/><rect x="591" y="898.3" width="5" height="5"/><rect x="597" y="902" width="5" height="5"/><rect x="594" y="904.5" width="5" height="5"/>
</g>
<g fill="none" stroke="#e8401c" stroke-width="1.3">
<rect x="610.5" y="895.9" width="5" height="5"/><rect x="615.5" y="897.1" width="5" height="5"/><rect x="608.5" y="900.8" width="5" height="5"/><rect x="615.5" y="905.7" width="5" height="5"/><rect x="612.5" y="910.5" width="5" height="5"/>
<rect x="627" y="892.2" width="5" height="5"/><rect x="632" y="895.9" width="5" height="5"/><rect x="625" y="897.1" width="5" height="5"/><rect x="633" y="898.3" width="5" height="5"/>
<rect x="647.5" y="859.3" width="5" height="5"/><rect x="643.5" y="867.8" width="5" height="5"/><rect x="649.5" y="869.1" width="5" height="5"/><rect x="645.5" y="873.9" width="5" height="5"/><rect x="643.5" y="889.8" width="5" height="5"/>
<rect x="664" y="823.9" width="5" height="5"/><rect x="661" y="838.6" width="5" height="5"/><rect x="666" y="843.4" width="5" height="5"/><rect x="659" y="848.3" width="5" height="5"/><rect x="664" y="853.2" width="5" height="5"/>
</g>
<g stroke="#111" stroke-width="1.1">
<line x1="649" y1="868" x2="649" y2="880"/><line x1="645" y1="880" x2="653" y2="880"/>
<line x1="665.5" y1="839" x2="665.5" y2="851"/><line x1="661.5" y1="839" x2="669.5" y2="839"/>
</g>
<g font-size="11" text-anchor="end" fill="#111">
<text x="584" y="817">10</text><text x="584" y="841.4">8</text><text x="584" y="865.8">6</text><text x="584" y="890.2">4</text><text x="584" y="914.6">2</text><text x="584" y="939">0</text>
</g>
<text transform="translate(565,870) rotate(-90)" font-size="11" text-anchor="middle" fill="#111">FDC-M1+ area (%)</text>
<g font-size="11" fill="#111" text-anchor="end">
<text transform="translate(591,943) rotate(-45)">Sham</text>
<text transform="translate(608,943) rotate(-45)">MSC 1w</text>
<text transform="translate(625,943) rotate(-45)">MSC 2w</text>
<text transform="translate(642,943) rotate(-45)">MSC 3w</text>
<text transform="translate(659,943) rotate(-45)">MSC 4w</text>
</g>
</svg>
</body></html>
